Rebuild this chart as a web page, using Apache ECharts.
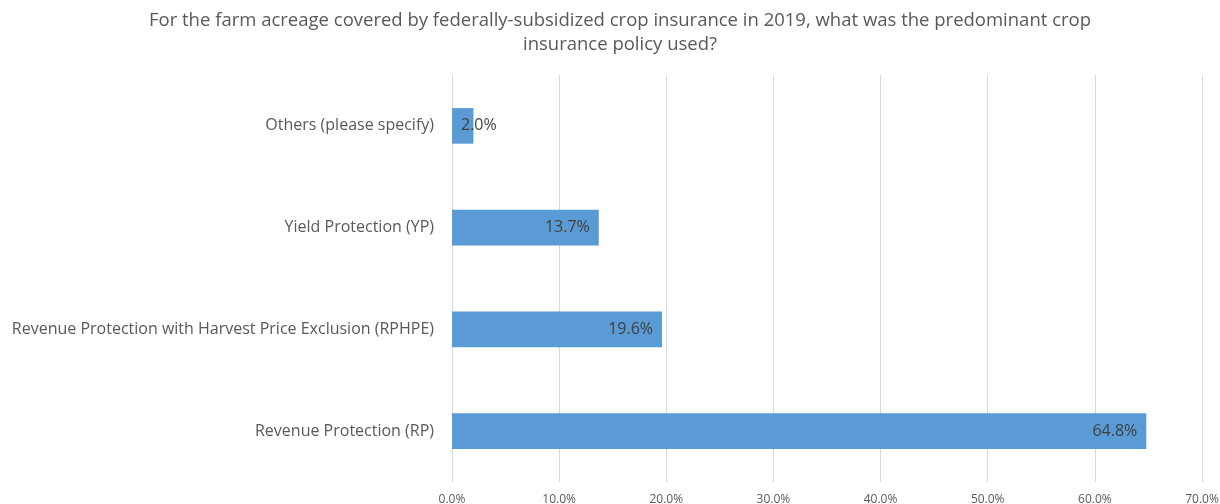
<!DOCTYPE html>
<html><head><meta charset="utf-8">
<script src="https://cdn.jsdelivr.net/npm/echarts@6/dist/echarts.min.js"></script>
<style>html,body{margin:0;padding:0;background:#fff}#c{width:1220px;height:504px}</style>
</head><body><div id="c"></div>
<script>
const titleText = "For the farm acreage covered by federally-subsidized crop insurance in 2019, what was the predominant crop\ninsurance policy used?";
const categories = ["Revenue Protection (RP)", "Revenue Protection with Harvest Price Exclusion (RPHPE)", "Yield Protection (YP)", "Others (please specify)"];
const values = [64.8, 19.6, 13.7, 2.0];
const xTicks = [0, 10, 20, 30, 40, 50, 60, 70];

const FONT = "Open Sans";
const chart = echarts.init(document.getElementById('c'));
chart.setOption({
  animation: false,
  textStyle: { fontFamily: FONT },
  title: {
    text: titleText, left: 615, top: 4, textAlign: 'center',
    textStyle: { fontFamily: FONT, fontSize: 18.5, fontWeight: 'normal', color: '#595959', lineHeight: 24 }
  },
  grid: { left: 452, right: 18, top: 75, bottom: 22, containLabel: false, outerBoundsMode: 'none' },
  xAxis: {
    type: 'value', min: xTicks[0], max: xTicks[xTicks.length - 1], interval: 10,
    axisLine: { show: false }, axisTick: { show: false },
    splitLine: { show: true, lineStyle: { color: '#d9d9d9', width: 1 } },
    axisLabel: { formatter: v => v.toFixed(1) + '%', color: '#595959', fontSize: 12, margin: 12 }
  },
  yAxis: {
    type: 'category', data: categories,
    axisLine: { show: false }, axisTick: { show: false },
    axisLabel: { color: '#595959', fontSize: 16, margin: 18 }
  },
  series: [{
    type: 'bar', barWidth: '35%',
    itemStyle: { color: '#5b9bd5' },
    label: {
      show: true, position: 'insideRight', distance: 9, color: '#404040', fontSize: 16,
      formatter: p => p.value.toFixed(1) + '%'
    },
    data: values.map(v => v < 5 ? { value: v, label: { position: 'insideLeft' } } : v)
  }]
});
</script></body></html>
